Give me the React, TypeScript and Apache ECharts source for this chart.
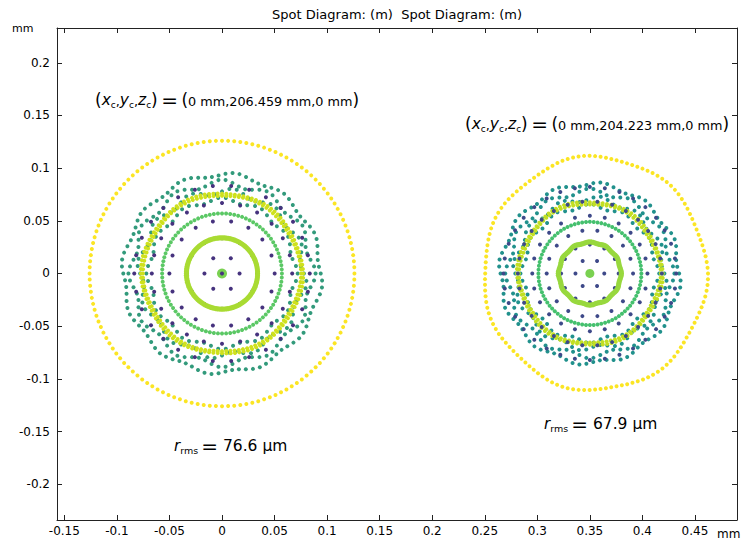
import React, { useEffect, useRef } from "react";
import * as echarts from "echarts";

// ---------- axes ----------
const xTicks = [-0.15, -0.1, -0.05, 0, 0.05, 0.1, 0.15, 0.2, 0.25, 0.3, 0.35, 0.4, 0.45];
const yTicks = [-0.2, -0.15, -0.1, -0.05, 0, 0.05, 0.1, 0.15, 0.2];
const xRange = [-0.157, 0.49];
const yRange = [-0.234, 0.233];

// ---------- spots (mm) ----------
const spotCenterX = [0, 0.35];
const spotCenterY = [0, 0];

// hexapolar ray grid (purple): ring spacing and number of rings per spot
const hexStep = [0.0167, 0.0137];
const hexRings = [5, 6];

// ring tuples: [radius, points, wobble, lobes, phase]
type Ring = [number, number, number, number, number];
const outerYellowL: Ring[] = [[0.126, 136, 0, 0, 0]];
const outerYellowR: Ring[] = [[0.106, 128, 0.0015, 7, 0.4]];
const outerShiftR = 0.005; // mm, centre offset of right outer ring
const outerYScaleR = 1.045;

const tealL: Ring[] = [
  [0.07, 62, 0.002, 12, 0],
  [0.078, 72, 0.003, 12, 1.6],
  [0.086, 82, 0.003, 12, 0],
  [0.094, 90, 0.002, 12, 1.6],
];
const tealR: Ring[] = [
  [0.064, 58, 0.002, 12, 0],
  [0.071, 66, 0.0025, 12, 1.6],
  [0.078, 74, 0.0025, 12, 0],
  [0.085, 82, 0.002, 12, 1.6],
];
const innerYellowL: Ring[] = [
  [0.0745, 116, 0.0008, 6, 0],
  [0.0765, 116, 0.0008, 6, 0.5],
];
const innerYellowR: Ring[] = [
  [0.0665, 104, 0.001, 6, 0],
  [0.0685, 104, 0.001, 6, 0.5],
];
const greenL: Ring[] = [[0.057, 92, 0, 0, 0]];
const greenR: Ring[] = [[0.049, 84, 0, 0, 0]];
const limeL: Ring[] = [
  [0.0333, 130, 0, 0, 0],
  [0.0344, 130, 0, 0, 0],
];
const limeR: Ring[] = [
  [0.0289, 120, 0.0005, 12, 0],
  [0.0301, 120, 0.0005, 12, 0],
];

const C = {
  outer: "#fbe524",
  tealL: "#329a7b",
  tealR: "#21918c",
  innerYL: "#cfe11d",
  innerYR: "#c2df23",
  greenL: "#5bc865",
  greenR: "#45c06e",
  purpleL: "#46327e",
  purpleR: "#3e4989",
  limeL: "#a9db33",
  limeR: "#98d83e",
  center: "#7ad151",
};

function ringPoints(cx: number, cy: number, rings: Ring[], dx = 0, ys = 1) {
  const pts: number[][] = [];
  for (const [r, n, amp, lobes, phase] of rings) {
    for (let i = 0; i < n; i++) {
      const t = (2 * Math.PI * i) / n;
      const rr = r + amp * Math.cos(lobes * t + phase);
      pts.push([cx + dx + rr * Math.cos(t), cy + rr * ys * Math.sin(t)]);
    }
  }
  return pts;
}

function hexPoints(cx: number, cy: number, step: number, rings: number) {
  const pts: number[][] = [[cx, cy]];
  for (let k = 1; k <= rings; k++) {
    const n = 6 * k;
    for (let i = 0; i < n; i++) {
      const t = (2 * Math.PI * i) / n;
      pts.push([cx + k * step * Math.cos(t), cy + k * step * Math.sin(t)]);
    }
  }
  return pts;
}

const FONT = "DejaVu Sans, Verdana, sans-serif";

function scatter(data: number[][], color: string, size = 4) {
  return {
    type: "scatter",
    data,
    symbol: "circle",
    symbolSize: size,
    itemStyle: { color, opacity: 1 },
    emphasis: { disabled: true },
    silent: true,
  };
}

function coordText(x: number, y: number, yc: string) {
  return {
    type: "text",
    x,
    y,
    style: {
      text:
        "{p|(}{i|x}{s|c}{n|,}{i|y}{s|c}{n|,}{i|z}{s|c}{p|)}{w| }{e|=}{w| }{p|(}{n|0 mm," +
        yc +
        " mm,0 mm}{p|)}",
      verticalAlign: "middle",
      rich: {
        p: { fontSize: 17, fontFamily: FONT, fill: "#000" },
        i: { fontSize: 15.5, fontStyle: "italic", fontFamily: FONT, fill: "#000" },
        s: { fontSize: 9, fontFamily: FONT, fill: "#000", padding: [9, 0, 0, 0] },
        n: { fontSize: 12.8, fontFamily: FONT, fill: "#000", padding: [2, 0, 0, 0] },
        w: { fontSize: 11, fontFamily: FONT, fill: "#000" },
        e: { fontSize: 20, fontFamily: FONT, fill: "#000" },
      },
    },
  };
}

function rmsText(x: number, y: number, val: string) {
  return {
    type: "text",
    x,
    y,
    style: {
      text: "{i|r}{s|rms}{w| }{e|=}{n| " + val + " μm}",
      verticalAlign: "middle",
      rich: {
        i: { fontSize: 15, fontStyle: "italic", fontFamily: FONT, fill: "#000" },
        s: { fontSize: 9.5, fontFamily: FONT, fill: "#000", padding: [9, 0, 0, 0] },
        n: { fontSize: 15.5, fontFamily: FONT, fill: "#000" },
        w: { fontSize: 10, fontFamily: FONT, fill: "#000" },
        e: { fontSize: 20, fontFamily: FONT, fill: "#000" },
      },
    },
  };
}

export default function App() {
  const ref = useRef<HTMLDivElement>(null);
  useEffect(() => {
    document.body.style.margin = "0";
    if (!ref.current) return;
    const chart = echarts.init(ref.current, undefined, { renderer: "svg" });

    const [lx, rx] = spotCenterX;
    const [ly, ry] = spotCenterY;

    const axisCommon = {
      type: "value",
      axisLine: { show: true, onZero: false, lineStyle: { color: "#222", width: 1 } },
      splitLine: { show: false },
    };
    const fmt = (v: number) => String(v);

    const option: any = {
      animation: false,
      grid: { left: 57, right: 4, top: 28, bottom: 24, containLabel: false },
      xAxis: [
        {
          ...axisCommon,
          min: xRange[0],
          max: xRange[1],
          position: "bottom",
          axisTick: { show: true, inside: true, length: 5, customValues: xTicks, lineStyle: { color: "#222" } },
          axisLabel: { customValues: xTicks, formatter: fmt, color: "#000", fontSize: 12, fontFamily: FONT, margin: 5 },
        },
        {
          ...axisCommon,
          min: xRange[0],
          max: xRange[1],
          position: "top",
          axisTick: { show: true, inside: true, length: 5, customValues: xTicks, lineStyle: { color: "#222" } },
          axisLabel: { show: false },
        },
      ],
      yAxis: [
        {
          ...axisCommon,
          min: yRange[0],
          max: yRange[1],
          position: "left",
          axisTick: { show: true, inside: true, length: 5, customValues: yTicks, lineStyle: { color: "#222" } },
          axisLabel: { customValues: yTicks, formatter: fmt, color: "#000", fontSize: 12, fontFamily: FONT, margin: 7 },
        },
        {
          ...axisCommon,
          min: yRange[0],
          max: yRange[1],
          position: "right",
          axisTick: { show: true, inside: true, length: 5, customValues: yTicks, lineStyle: { color: "#222" } },
          axisLabel: { show: false },
        },
      ],
      series: [
        scatter(ringPoints(lx, ly, outerYellowL), C.outer),
        scatter(ringPoints(rx, ry, outerYellowR, outerShiftR, outerYScaleR), C.outer),
        scatter(ringPoints(lx, ly, tealL), C.tealL),
        scatter(ringPoints(rx, ry, tealR), C.tealR),
        scatter(ringPoints(lx, ly, innerYellowL), C.innerYL),
        scatter(ringPoints(rx, ry, innerYellowR), C.innerYR),
        scatter(ringPoints(lx, ly, greenL), C.greenL),
        scatter(ringPoints(rx, ry, greenR), C.greenR),
        scatter(hexPoints(lx, ly, hexStep[0], hexRings[0]), C.purpleL),
        scatter(hexPoints(rx, ry, hexStep[1], hexRings[1]).slice(1), C.purpleR),
        scatter(ringPoints(lx, ly, limeL), C.limeL),
        scatter(ringPoints(rx, ry, limeR), C.limeR),
        scatter([[lx, ly]], C.center, 10),
        scatter([[lx, ly]], C.purpleL, 4),
        scatter([[rx, ry]], C.center, 9),
      ],
      graphic: [
        {
          type: "text",
          x: 397,
          y: 14,
          style: {
            text: "Spot Diagram: (m)  Spot Diagram: (m)",
            align: "center",
            verticalAlign: "middle",
            fontSize: 13,
            fontFamily: FONT,
            fill: "#000",
          },
        },
        {
          type: "text",
          x: 12,
          y: 28,
          style: { text: "mm", verticalAlign: "middle", fontSize: 11, fontFamily: FONT, fill: "#000" },
        },
        {
          type: "text",
          x: 717,
          y: 534,
          style: { text: "mm", verticalAlign: "middle", fontSize: 12, fontFamily: FONT, fill: "#000" },
        },
        coordText(95, 100, "206.459"),
        coordText(465, 124, "204.223"),
        rmsText(174, 446, "76.6"),
        rmsText(544, 424, "67.9"),
      ],
    };
    chart.setOption(option);
    return () => chart.dispose();
  }, []);
  return <div ref={ref} style={{ width: 741, height: 544 }} />;
}
